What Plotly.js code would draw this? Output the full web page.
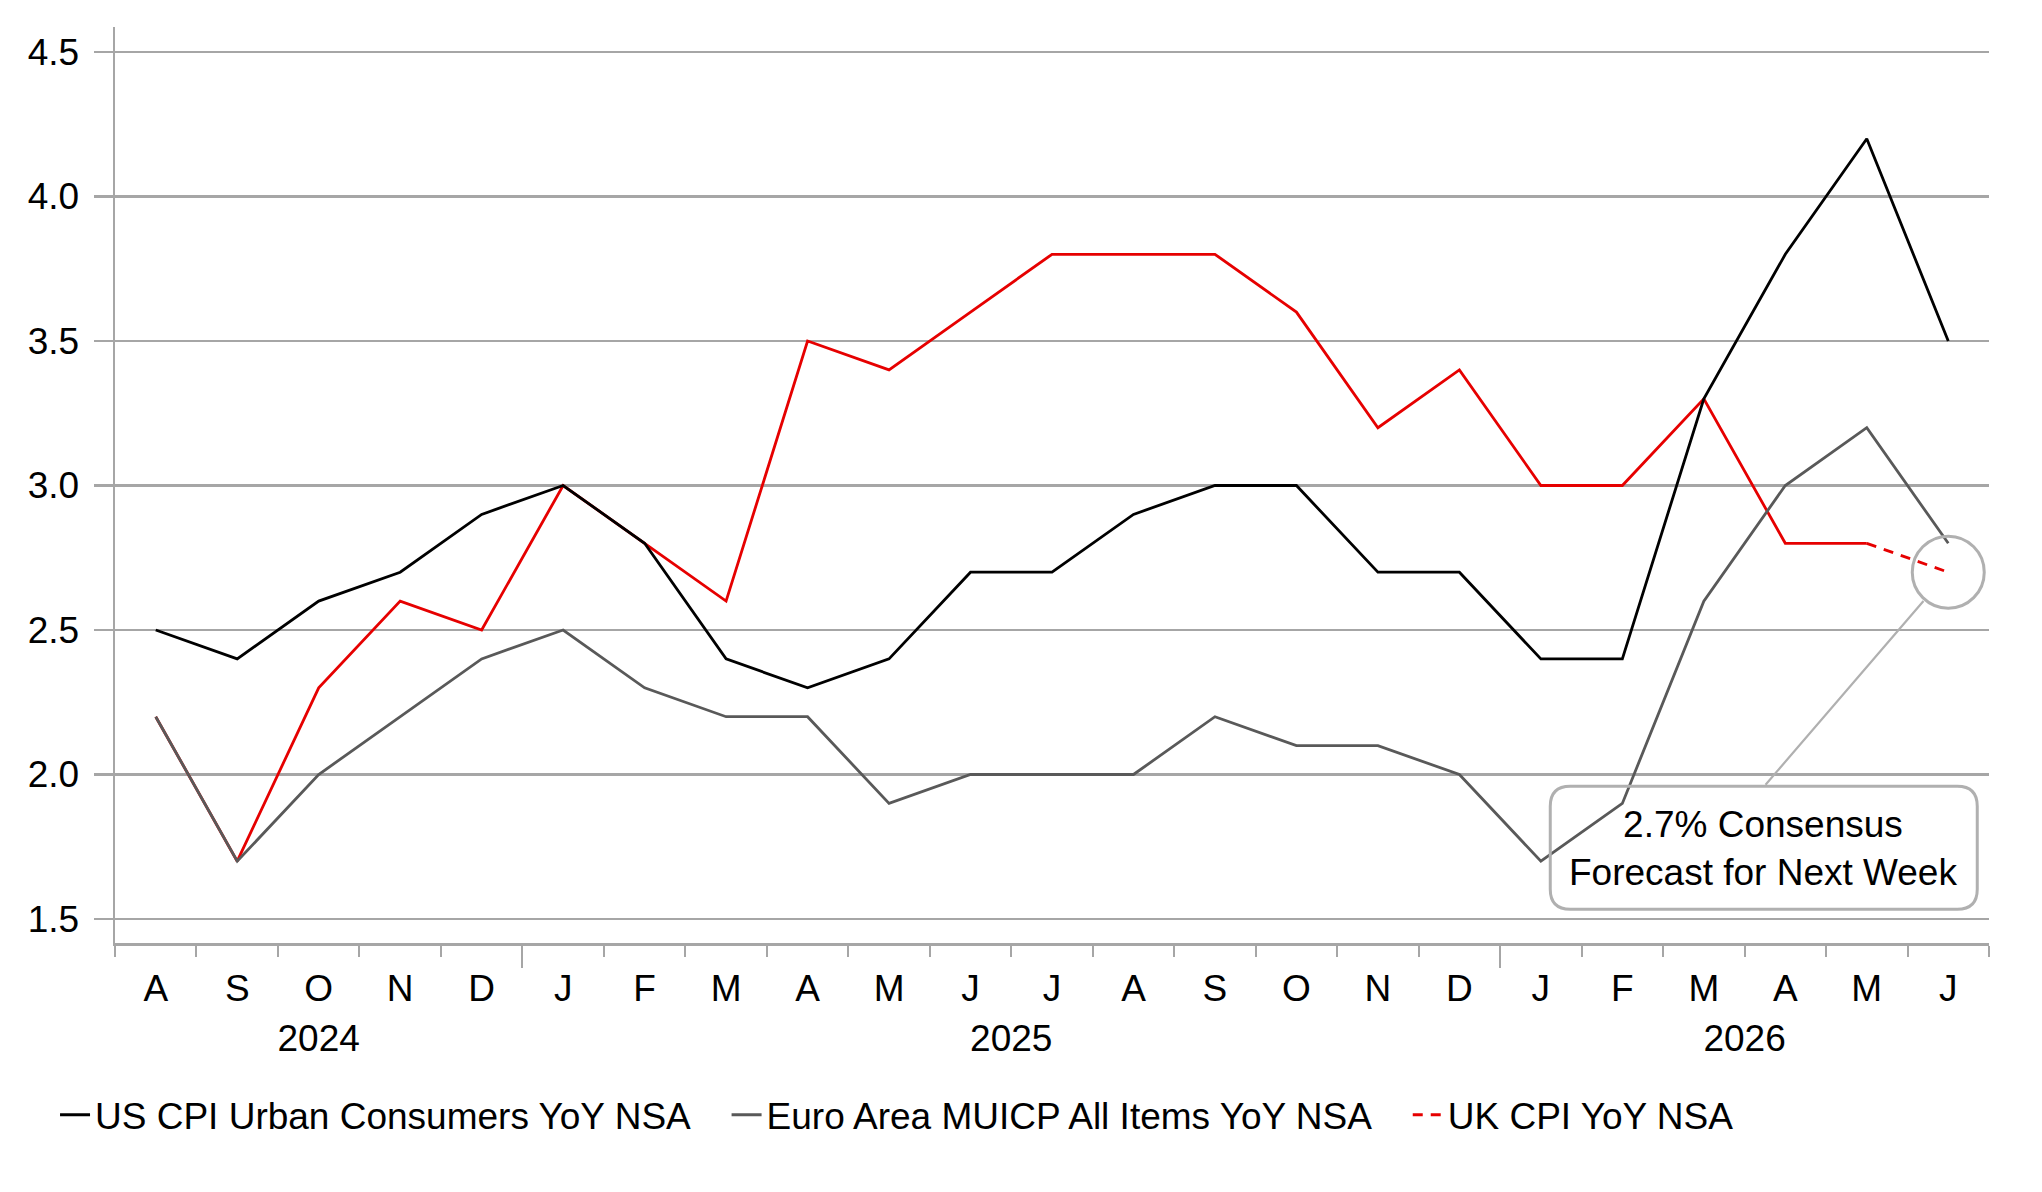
<!DOCTYPE html>
<html>
<head>
<meta charset="utf-8">
<script src="https://cdn.plot.ly/plotly-3.0.1.min.js"></script>
<style>
  html, body { margin: 0; padding: 0; background: #ffffff; }
  #grafico { width: 2042px; height: 1192px; }
</style>
</head>
<body>
<div id="grafico"></div>
<script>
"use strict";

// Meses (ago 2024 - jun 2026)
const meses = ['A','S','O','N','D','J','F','M','A','M','J','J','A','S','O','N','D','J','F','M','A','M','J'];
const anioDeMes = [2024,2024,2024,2024,2024,
                   2025,2025,2025,2025,2025,2025,2025,2025,2025,2025,2025,2025,
                   2026,2026,2026,2026,2026,2026];

// Series
const usCpi   = [2.5,2.4,2.6,2.7,2.9,3.0,2.8,2.4,2.3,2.4,2.7,2.7,2.9,3.0,3.0,2.7,2.7,2.4,2.4,3.3,3.8,4.2,3.5];
const euroCpi = [2.2,1.7,2.0,2.2,2.4,2.5,2.3,2.2,2.2,1.9,2.0,2.0,2.0,2.2,2.1,2.1,2.0,1.7,1.9,2.6,3.0,3.2,2.8];
const ukCpi   = [2.2,1.7,2.3,2.6,2.5,3.0,2.8,2.6,3.5,3.4,3.6,3.8,3.8,3.8,3.6,3.2,3.4,3.0,3.0,3.3,2.8,2.8,2.7];

const nombres = ['US CPI Urban Consumers YoY NSA', 'Euro Area MUICP All Items YoY NSA', 'UK CPI YoY NSA'];
const yTicks = [1.5, 2.0, 2.5, 3.0, 3.5, 4.0, 4.5];

const FUENTE = '"Liberation Sans", Arial, sans-serif';
const GRIS = '#a6a6a6';
const TAM = 37;
const RELLENO = '\u00a0\u00a0\u00a0'; // espacio extra entre entradas de la leyenda

const idx = meses.map((m, i) => i);
const ultimo = idx.length - 1;

// UK: tramo sólido hasta el penúltimo mes, tramo punteado para el pronóstico
const ukSolido = ukCpi.map((v, i) => i < ultimo ? v : null);
const ukPronostico = ukCpi.map((v, i) => i >= ultimo - 1 ? v : null);

// Límites entre meses y entre años
const limites = idx.map(i => i - 0.5).concat([ultimo + 0.5]);
const anios = [...new Set(anioDeMes)];
const centrosAnio = anios.map(a => {
    const pos = idx.filter(i => anioDeMes[i] === a);
    return (pos[0] + pos[pos.length - 1]) / 2;
});
const limitesAnio = idx.filter(i => i > 0 && anioDeMes[i] !== anioDeMes[i - 1]).map(i => i - 0.5);

const traces = [
    { x: idx, y: ukSolido, type: 'scatter', mode: 'lines', line: { color: '#e60000', width: 2.8 },
      showlegend: false, hoverinfo: 'skip', legendrank: 3 },
    { x: idx, y: ukPronostico, type: 'scatter', mode: 'lines', name: nombres[2],
      line: { color: '#e60000', width: 2.8, dash: '10px,8px' }, legendrank: 3 },
    { x: idx, y: euroCpi, type: 'scatter', mode: 'lines', name: nombres[1] + RELLENO,
      line: { color: '#595959', width: 2.8 }, legendrank: 2 },
    { x: idx, y: usCpi, type: 'scatter', mode: 'lines', name: nombres[0] + RELLENO,
      line: { color: '#000000', width: 2.8 }, legendrank: 1 },
    // eje de años
    { x: centrosAnio, y: centrosAnio.map(() => null), xaxis: 'x2', yaxis: 'y',
      type: 'scatter', mode: 'lines', showlegend: false, hoverinfo: 'skip' }
];

const rangoX = [-0.5, ultimo + 0.5];

const layout = {
    width: 2042,
    height: 1192,
    margin: { l: 115, r: 53, t: 27, b: 249 },
    paper_bgcolor: '#ffffff',
    plot_bgcolor: '#ffffff',
    font: { family: FUENTE, size: TAM, color: '#000000' },
    showlegend: true,
    legend: {
        orientation: 'h',
        x: -0.032, xanchor: 'left',
        y: -0.188, yanchor: 'middle',
        font: { family: FUENTE, size: TAM, color: '#000000' },
        bgcolor: 'rgba(0,0,0,0)'
    },
    xaxis: {
        type: 'linear',
        range: rangoX,
        tickmode: 'array',
        tickvals: idx,
        ticktext: meses,
        ticks: '',
        ticklabelstandoff: 11,
        showgrid: false,
        zeroline: false,
        showline: true,
        linecolor: GRIS,
        linewidth: 2.5,
        tickfont: { family: FUENTE, size: TAM, color: '#000000' },
        minor: { tickmode: 'array', tickvals: limites, ticks: 'outside', ticklen: 11,
                 tickcolor: GRIS, tickwidth: 2, showgrid: false }
    },
    xaxis2: {
        type: 'linear',
        overlaying: 'x',
        anchor: 'y',
        side: 'bottom',
        range: rangoX,
        tickmode: 'array',
        tickvals: centrosAnio,
        ticktext: anios.map(String),
        ticks: '',
        ticklabelstandoff: 70,
        showgrid: false,
        zeroline: false,
        showline: false,
        tickfont: { family: FUENTE, size: TAM, color: '#000000' },
        minor: { tickmode: 'array', tickvals: limitesAnio, ticks: 'outside', ticklen: 24,
                 tickcolor: GRIS, tickwidth: 2, showgrid: false }
    },
    yaxis: {
        range: [1.417, 4.5865],
        tickmode: 'array',
        tickvals: yTicks,
        tickformat: '.1f',
        ticks: 'outside',
        ticklen: 19,
        tickwidth: 2.5,
        tickcolor: GRIS,
        ticklabelstandoff: 7,
        showgrid: true,
        gridcolor: GRIS,
        gridwidth: 2.5,
        zeroline: false,
        showline: true,
        linecolor: GRIS,
        linewidth: 2.5,
        tickfont: { family: FUENTE, size: TAM, color: '#000000' }
    },
    shapes: [
        // círculo sobre el pronóstico
        { type: 'circle', xref: 'x', yref: 'y', xsizemode: 'pixel', ysizemode: 'pixel',
          xanchor: ultimo, yanchor: ukCpi[ultimo], x0: -36, x1: 36, y0: -36, y1: 36,
          line: { color: '#b0b0b0', width: 3 }, fillcolor: 'rgba(0,0,0,0)' },
        // caja redondeada del texto
        { type: 'path', xref: 'x', yref: 'y', xsizemode: 'pixel', ysizemode: 'pixel',
          xanchor: ultimo, yanchor: ukCpi[ultimo],
          path: 'M -378,-214 L 9,-214 Q 29,-214 29,-234 L 29,-317 Q 29,-337 9,-337 ' +
                'L -378,-337 Q -398,-337 -398,-317 L -398,-234 Q -398,-214 -378,-214 Z',
          line: { color: '#b0b0b0', width: 3 }, fillcolor: 'rgba(0,0,0,0)' }
    ],
    annotations: [
        { x: ultimo, y: ukCpi[ultimo], xref: 'x', yref: 'y', text: '',
          showarrow: true, arrowhead: 0, arrowwidth: 2.2, arrowcolor: '#b0b0b0',
          ax: -184, ay: 214, standoff: 38 },
        { x: ultimo, y: ukCpi[ultimo], xref: 'x', yref: 'y',
          text: ukCpi[ultimo].toFixed(1) + '% Consensus<br>Forecast for Next Week',
          showarrow: false, xshift: -185, yshift: -276,
          font: { family: FUENTE, size: TAM, color: '#000000' } }
    ]
};

const config = { displayModeBar: false, staticPlot: true };

Plotly.newPlot('grafico', traces, layout, config);
</script>
</body>
</html>
